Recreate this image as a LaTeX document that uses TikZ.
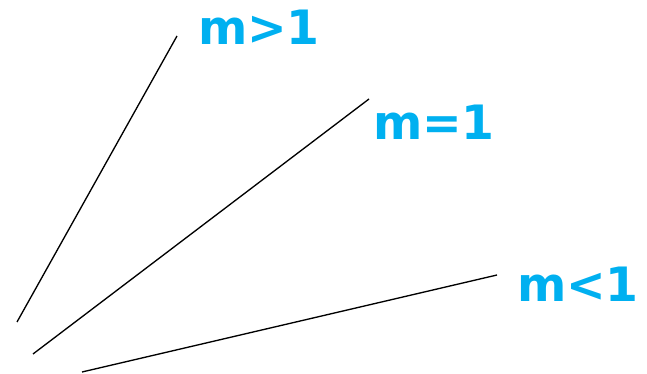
\documentclass[tikz,border=0pt]{standalone}
\usepackage{fontspec}
\setmainfont{DejaVu Sans}
\definecolor{slopeblue}{RGB}{0,176,240}

\begin{document}
\begin{tikzpicture}[x=0.75pt,y=-0.75pt,every node/.style={inner sep=0pt, outer sep=0pt, anchor=base west, text=slopeblue, font=\fontsize{35.5}{40}\selectfont\bfseries}]
\useasboundingbox (0,0) rectangle (647,374);

\coordinate (a0) at (17,322);
\coordinate (a1) at (177,36);
\coordinate (b0) at (33,354);
\coordinate (b1) at (369,99);
\coordinate (c0) at (82,372);
\coordinate (c1) at (497,275);

\draw[line width=1pt] (a0) -- (a1);
\draw[line width=1pt] (b0) -- (b1);
\draw[line width=1pt] (c0) -- (c1);

\node (mgt) at (198,45) {m>1};
\node (meq) at (373,140) {m=1};
\node (mlt) at (517,302) {m<1};
\end{tikzpicture}
\end{document}
